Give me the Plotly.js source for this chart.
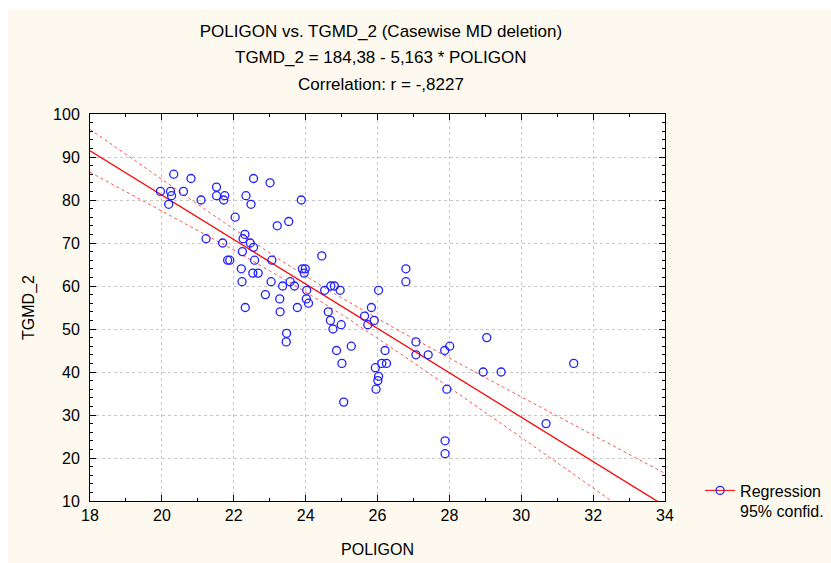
<!DOCTYPE html>
<html>
<head>
<meta charset="utf-8">
<script src="https://cdn.plot.ly/plotly-3.0.1.min.js"></script>
<style>
  html, body { margin: 0; padding: 0; background: #ffffff; width: 831px; height: 563px; overflow: hidden; }
  #chart { position: absolute; left: 8px; top: 10px; width: 823px; height: 553px; }
</style>
</head>
<body>
<div id="chart"></div>
<script>
// POLIGON values (x)
const poligon = [
  20.33, 20.81, 19.96, 20.24, 20.27, 20.60, 20.19, 21.09, 21.52, 21.52,
  21.75, 21.72, 22.34, 22.55, 22.48, 23.01, 22.04, 23.21, 21.23, 21.69,
  22.31, 22.26, 22.46, 22.55, 22.24, 21.83, 21.89, 22.58, 23.06, 22.21,
  22.53, 22.68, 22.23, 23.04, 23.36, 22.88, 23.28, 22.32, 23.29, 23.88,
  23.53, 24.45, 23.91, 23.99, 23.96, 23.57, 23.69, 24.03, 24.02, 24.08,
  23.77, 24.53, 24.70, 24.80, 24.96, 24.63, 24.69, 24.99, 24.76, 23.47,
  23.46, 25.27, 24.86, 25.01, 25.06, 25.83, 25.64, 25.91, 25.73, 26.03,
  26.79, 26.79, 26.21, 26.12, 26.25, 25.94, 26.03, 26.01, 25.96, 27.07,
  27.07, 27.41, 27.87, 28.01, 27.93, 27.88, 27.88, 29.04, 28.94, 29.44,
  31.46, 30.69
];
// TGMD_2 values (y)
const tgmd2 = [
  86, 85, 82, 82, 81, 82, 79, 80, 83, 81,
  81, 80, 81, 85, 79, 84, 76, 74, 71, 70,
  72, 71, 70, 69, 68, 66, 66, 66, 66, 64,
  63, 63, 61, 61, 60, 58, 57, 55, 54, 80,
  75, 67, 64, 64, 63, 61, 60, 59, 57, 56,
  55, 59, 60, 60, 59, 54, 52, 51, 50, 49,
  47, 46, 45, 42, 33, 55, 53, 52, 51, 59,
  64, 61, 45, 42, 42, 41, 39, 38, 36, 47,
  44, 44, 45, 46, 36, 24, 21, 48, 40, 40,
  42, 28
];
// Regression reported in the chart
const intercept = 184.38;
const slope = -5.163;
const tCrit = 1.987; // 95%, df = n-2
const xTicks = [18, 20, 22, 24, 26, 28, 30, 32, 34];
const yTicks = [10, 20, 30, 40, 50, 60, 70, 80, 90, 100];
const xRange = [18, 34];
const yRange = [10, 100];

// derived regression line and confidence bands from the data
const n = poligon.length;
const xbar = poligon.reduce((a, b) => a + b, 0) / n;
const sxx = poligon.reduce((a, x) => a + (x - xbar) * (x - xbar), 0);
const sse = poligon.reduce((a, x, i) => { const r = tgmd2[i] - (intercept + slope * x); return a + r * r; }, 0);
const s = Math.sqrt(sse / (n - 2));
const lineX = [];
for (let k = 0; k <= 64; k++) lineX.push(xRange[0] + (xRange[1] - xRange[0]) * k / 64);
const fitY = lineX.map(x => intercept + slope * x);
const half = lineX.map(x => tCrit * s * Math.sqrt(1 / n + (x - xbar) * (x - xbar) / sxx));
const upY = fitY.map((y, i) => y + half[i]);
const loY = fitY.map((y, i) => y - half[i]);

const FONT = 'Arial, "Liberation Sans", sans-serif';

const traces = [
  { x: lineX, y: upY, mode: 'lines', line: { color: '#ff5050', width: 1, dash: 'dot' }, showlegend: false, hoverinfo: 'skip' },
  { x: lineX, y: loY, mode: 'lines', line: { color: '#ff5050', width: 1, dash: 'dot' }, showlegend: false, hoverinfo: 'skip' },
  { x: lineX, y: fitY, mode: 'lines', line: { color: '#ff0000', width: 1.3 }, showlegend: false, hoverinfo: 'skip' },
  { x: poligon, y: tgmd2, mode: 'markers', marker: { symbol: 'circle-open', size: 8, color: '#1f1fff', line: { width: 1.3, color: '#1f1fff' } }, showlegend: false },
  { x: [null], y: [null], mode: 'lines+markers', name: 'Regression<br>95% confid.',
    line: { color: '#ff0000', width: 1 }, marker: { symbol: 'circle-open', size: 8, color: '#1f1fff', line: { width: 1.3, color: '#1f1fff' } } }
];

const axisCommon = {
  showline: true, linecolor: '#000000', linewidth: 1, mirror: 'allticks',
  ticks: 'inside', ticklen: 6, tickcolor: '#000000', tickwidth: 1,
  showgrid: true, gridcolor: '#c8c8c8', griddash: 'dot', gridwidth: 1,
  zeroline: false, tickfont: { family: FONT, size: 16, color: '#000000' }
};

const layout = {
  width: 823, height: 553,
  paper_bgcolor: '#fdf9ee', plot_bgcolor: '#ffffff',
  margin: { l: 82, r: 166, t: 104, b: 62, autoexpand: false },
  font: { family: FONT, color: '#000000' },
  title: { text: 'POLIGON vs. TGMD_2 (Casewise MD deletion)', font: { family: FONT, size: 17, color: '#000000' },
           xref: 'paper', x: 0.506, xanchor: 'center', yref: 'container', y: 0.962, yanchor: 'middle' },
  annotations: [
    { text: 'TGMD_2 = 184,38 - 5,163 * POLIGON', xref: 'paper', yref: 'paper', x: 0.506, y: 1.147, xanchor: 'center', yanchor: 'middle', showarrow: false, font: { family: FONT, size: 17, color: '#000000' } },
    { text: 'Correlation: r = -,8227', xref: 'paper', yref: 'paper', x: 0.506, y: 1.0775, xanchor: 'center', yanchor: 'middle', showarrow: false, font: { family: FONT, size: 17, color: '#000000' } }
  ],
  xaxis: Object.assign({}, axisCommon, {
    range: xRange, tickvals: xTicks, ticktext: xTicks.map(String),
    minor: { dtick: 1, ticks: 'inside', ticklen: 3, tickcolor: '#000000', showgrid: false },
    title: { text: 'POLIGON', font: { family: FONT, size: 16, color: '#000000' }, standoff: 20 }
  }),
  yaxis: Object.assign({}, axisCommon, {
    range: yRange, tickvals: yTicks, ticktext: yTicks.map(String), ticklabelstandoff: 6,
    minor: { dtick: 2, ticks: 'inside', ticklen: 3, tickcolor: '#000000', showgrid: false },
    title: { text: 'TGMD_2', font: { family: FONT, size: 16, color: '#000000' }, standoff: 14 }
  }),
  legend: { x: 1.061, xanchor: 'left', y: 0.0, yanchor: 'middle', valign: 'top', bgcolor: 'rgba(0,0,0,0)',
            font: { family: FONT, size: 16, color: '#000000' }, itemwidth: 30, tracegroupgap: 0 },
  showlegend: true
};

Plotly.newPlot('chart', traces, layout, { displayModeBar: false, staticPlot: true });
</script>
</body>
</html>
